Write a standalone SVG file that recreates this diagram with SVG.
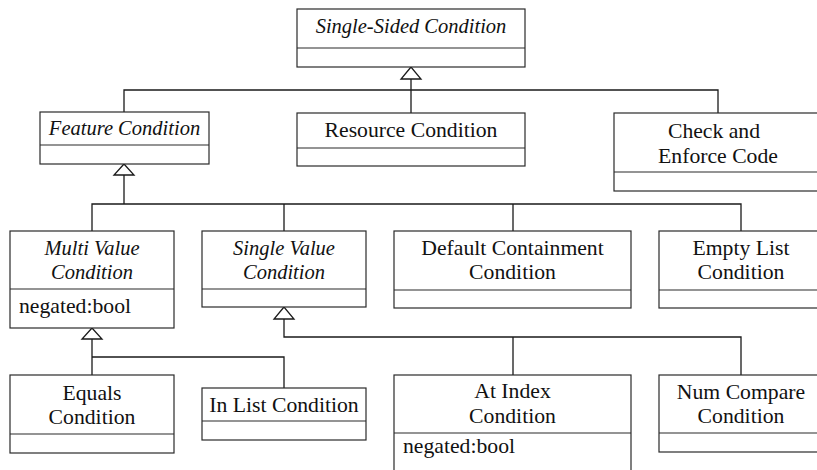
<svg xmlns="http://www.w3.org/2000/svg" width="817" height="470" viewBox="0 0 817 470">
  <style>
    .box { fill: #ffffff; stroke: #2a2a2a; stroke-width: 1.2; }
    .sep { stroke: #2a2a2a; stroke-width: 1.2; }
    .wire { fill: none; stroke: #1a1a1a; stroke-width: 1.3; }
    .head { fill: #ffffff; stroke: #1a1a1a; stroke-width: 1.3; stroke-linejoin: miter; }
    text { font-family: "Liberation Serif", "DejaVu Serif", serif; font-size: 21.7px; fill: #111111; }
    .c { text-anchor: middle; }
    .i { font-style: italic; font-size: 20.5px; }
  </style>
  <rect width="817" height="470" fill="#ffffff"/>

  <!-- generalization connectors -->
  <g id="connectors">
    <!-- Single-Sided Condition children -->
    <path class="wire" d="M411 79 V113 M124 112 V90 H718 V113"/>
    <polygon class="head" points="411,67 401,79 421,79"/>
    <!-- Feature Condition children -->
    <path class="wire" d="M124 175 V204 M92 231 V204 H741 V231 M284 204 V231 M513 204 V231"/>
    <polygon class="head" points="124,164 114,175 134,175"/>
    <!-- Single Value Condition children -->
    <path class="wire" d="M284 319 V337 H741 V375 M513 337 V375"/>
    <polygon class="head" points="284,307 274,319 294,319"/>
    <!-- Multi Value Condition children -->
    <path class="wire" d="M92 339 V375 M92 357 H284 V388"/>
    <polygon class="head" points="92,328 82,339 102,339"/>
  </g>

  <g id="single-sided-condition">
    <rect class="box" x="297" y="9" width="228" height="58"/>
    <line class="sep" x1="297" y1="48" x2="525" y2="48"/>
    <text class="c i" x="411" y="33">Single-Sided Condition</text>
  </g>

  <g id="feature-condition">
    <rect class="box" x="40" y="112" width="169" height="52"/>
    <line class="sep" x1="40" y1="145" x2="209" y2="145"/>
    <text class="c i" x="124.5" y="135">Feature Condition</text>
  </g>

  <g id="resource-condition">
    <rect class="box" x="297" y="113" width="228" height="53"/>
    <line class="sep" x1="297" y1="148" x2="525" y2="148"/>
    <text class="c" x="411" y="137">Resource Condition</text>
  </g>

  <g id="check-and-enforce-code">
    <rect class="box" x="614" y="113" width="208" height="78"/>
    <line class="sep" x1="614" y1="172" x2="822" y2="172"/>
    <text class="c" x="714" y="138">Check and</text>
    <text class="c" x="718" y="163">Enforce Code</text>
  </g>

  <g id="multi-value-condition">
    <rect class="box" x="10" y="231" width="164" height="97"/>
    <line class="sep" x1="10" y1="289" x2="174" y2="289"/>
    <text class="c i" x="92" y="255">Multi Value</text>
    <text class="c i" x="92" y="279">Condition</text>
    <text x="19" y="313">negated:bool</text>
  </g>

  <g id="single-value-condition">
    <rect class="box" x="202" y="231" width="164" height="76"/>
    <line class="sep" x1="202" y1="289" x2="366" y2="289"/>
    <text class="c i" x="284" y="255">Single Value</text>
    <text class="c i" x="284" y="279">Condition</text>
  </g>

  <g id="default-containment-condition">
    <rect class="box" x="394" y="231" width="237" height="77"/>
    <line class="sep" x1="394" y1="290" x2="631" y2="290"/>
    <text class="c" x="512.5" y="255">Default Containment</text>
    <text class="c" x="512.5" y="279">Condition</text>
  </g>

  <g id="empty-list-condition">
    <rect class="box" x="659" y="231" width="164" height="77"/>
    <line class="sep" x1="659" y1="290" x2="823" y2="290"/>
    <text class="c" x="741" y="255">Empty List</text>
    <text class="c" x="741" y="279">Condition</text>
  </g>

  <g id="equals-condition">
    <rect class="box" x="10" y="375" width="164" height="78"/>
    <line class="sep" x1="10" y1="434" x2="174" y2="434"/>
    <text class="c" x="92" y="400">Equals</text>
    <text class="c" x="92" y="424">Condition</text>
  </g>

  <g id="in-list-condition">
    <rect class="box" x="202" y="388" width="164" height="52"/>
    <line class="sep" x1="202" y1="421" x2="366" y2="421"/>
    <text class="c" x="284" y="412">In List Condition</text>
  </g>

  <g id="at-index-condition">
    <rect class="box" x="394" y="375" width="237" height="110"/>
    <line class="sep" x1="394" y1="433" x2="631" y2="433"/>
    <text class="c" x="512.5" y="398">At Index</text>
    <text class="c" x="512.5" y="423">Condition</text>
    <text x="403" y="453">negated:bool</text>
  </g>

  <g id="num-compare-condition">
    <rect class="box" x="659" y="375" width="164" height="77"/>
    <line class="sep" x1="659" y1="433" x2="823" y2="433"/>
    <text class="c" x="741" y="399">Num Compare</text>
    <text class="c" x="741" y="423">Condition</text>
  </g>
</svg>
